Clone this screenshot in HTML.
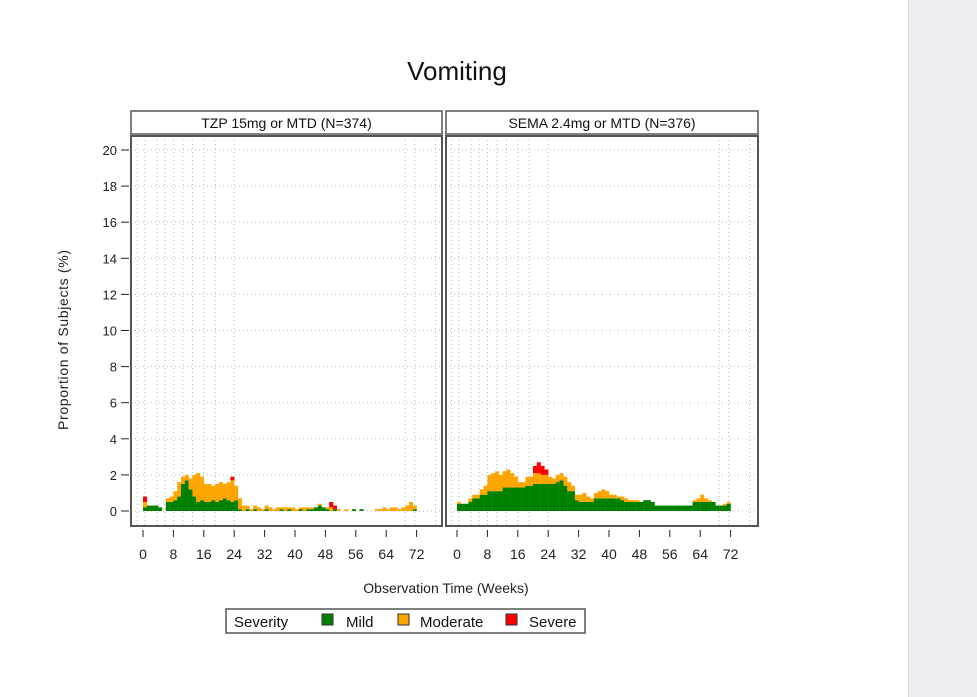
<!DOCTYPE html>
<html><head><meta charset="utf-8"><style>
body{margin:0;background:#fff;width:977px;height:697px;overflow:hidden;position:relative;font-family:"Liberation Sans",sans-serif}
#side{position:absolute;left:908px;top:0;width:69px;height:697px;background:#ececf2;border-left:1px solid #ddd}
</style></head><body>
<div id="side"></div>
<svg id="chart" width="977" height="697" style="position:absolute;left:0;top:0">
<text x="457" y="80" font-size="26" text-anchor="middle" fill="#111" font-family="Liberation Sans, sans-serif">Vomiting</text>
<text transform="translate(68,340) rotate(-90)" font-size="14" text-anchor="middle" fill="#222" textLength="180">Proportion of Subjects (%)</text>
<text x="446" y="593" font-size="14" text-anchor="middle" fill="#222">Observation Time (Weeks)</text>
<g>
<rect x="226" y="609" width="359" height="24" fill="#fff" stroke="#555" stroke-width="1.5"/>
<text x="234" y="627" font-size="15" fill="#111">Severity</text>
<rect x="322" y="614" width="11" height="11" fill="#008000" stroke="#333"/>
<text x="346" y="627" font-size="15" fill="#111">Mild</text>
<rect x="398" y="614" width="11" height="11" fill="#ffa500" stroke="#333"/>
<text x="420" y="627" font-size="15" fill="#111">Moderate</text>
<rect x="506" y="614" width="11" height="11" fill="#ff0000" stroke="#333"/>
<text x="529" y="627" font-size="15" fill="#111">Severe</text>
</g>
<g id="plot"></g>
</svg>
<script>
const yTicks=[0,2,4,6,8,10,12,14,16,18,20];
const xTicks=[0,8,16,24,32,40,48,56,64,72];
const gridWeeks=[-1.5,0.5,3.7,5.8,8,10.5,13,16,19,24,69,71.5,77];
const panelTitles=["TZP 15mg or MTD (N=374)","SEMA 2.4mg or MTD (N=376)"];
const tzpMild=[0.2,0.3,0.3,0.3,0.2,0,0.5,0.5,0.6,0.8,1.5,1.7,1.2,0.8,0.5,0.6,0.5,0.5,0.6,0.5,0.6,0.7,0.6,0.5,0.6,0.1,0,0.1,0,0.1,0,0,0.1,0,0,0,0.1,0,0.1,0,0,0.1,0,0.1,0.1,0.2,0.3,0.2,0.1,0,0.1,0,0,0,0,0.1,0,0.1,0,0,0,0,0,0,0,0,0,0,0,0,0,0.1];
const tzpMod=[0.3,0,0,0,0,0,0.2,0.3,0.5,0.8,0.4,0.3,0.6,1.2,1.6,1.3,1.0,1.0,0.8,1.0,1.0,0.8,1.0,1.2,0.8,0.6,0.3,0.2,0.1,0.2,0.2,0.1,0.2,0.2,0.1,0.2,0.1,0.2,0.1,0.2,0.1,0.1,0.2,0.1,0.1,0,0.1,0,0.1,0.2,0,0.1,0,0.1,0,0,0,0,0,0,0,0.1,0.1,0.2,0.1,0.2,0.2,0.1,0.2,0.3,0.5,0.2];
const tzpSev=[0.3,0,0,0,0,0,0,0,0,0,0,0,0,0,0,0,0,0,0,0,0,0,0,0.2,0,0,0,0,0,0,0,0,0,0,0,0,0,0,0,0,0,0,0,0,0,0,0,0,0,0.3,0.2,0,0,0,0,0,0,0,0,0,0,0,0,0,0,0,0,0,0,0,0,0];
const semaMild=[0.4,0.4,0.4,0.5,0.7,0.7,0.9,0.9,1.1,1.1,1.1,1.1,1.3,1.3,1.3,1.3,1.3,1.3,1.4,1.4,1.5,1.5,1.5,1.5,1.5,1.5,1.6,1.7,1.4,1.1,1.1,0.6,0.5,0.5,0.5,0.5,0.7,0.7,0.7,0.7,0.7,0.7,0.7,0.6,0.5,0.5,0.5,0.5,0.5,0.6,0.6,0.5,0.3,0.3,0.3,0.3,0.3,0.3,0.3,0.3,0.3,0.3,0.5,0.5,0.5,0.5,0.5,0.5,0.3,0.3,0.3,0.4];
const semaMod=[0.1,0,0,0.2,0.2,0.2,0.3,0.5,0.9,1.0,1.1,0.9,0.9,1.0,0.8,0.6,0.3,0.3,0.5,0.5,0.6,0.6,0.5,0.5,0.4,0.3,0.4,0.4,0.5,0.5,0.3,0.3,0.4,0.5,0.3,0.2,0.3,0.4,0.5,0.4,0.2,0.2,0.1,0.2,0.2,0.1,0.1,0.1,0,0,0,0,0,0,0,0,0,0,0,0,0,0,0.1,0.2,0.4,0.2,0.1,0,0,0,0.1,0.1];
const semaSev=[0,0,0,0,0,0,0,0,0,0,0,0,0,0,0,0,0,0,0,0,0.4,0.6,0.5,0.3,0,0,0,0,0,0,0,0,0,0,0,0,0,0,0,0,0,0,0,0,0,0,0,0,0,0,0,0,0,0,0,0,0,0,0,0,0,0,0,0,0,0,0,0,0,0,0,0];
const series=[[tzpMild,tzpMod,tzpSev],[semaMild,semaMod,semaSev]];
const colors=["#008000","#ffa500","#ff0000"];
const NS="http://www.w3.org/2000/svg";
const plot=document.getElementById('plot');
const panels=[{x0:131,x1:442,zero:143},{x0:446,x1:758,zero:457}];
const pxPerWeek=3.8;
const yTop=136,yBot=526;
function yScale(v){return 511-v*18.05;}
function mk(tag,a){const e=document.createElementNS(NS,tag);for(const k in a)e.setAttribute(k,a[k]);plot.appendChild(e);return e;}
for(const t of yTicks){
  const y=yScale(t);
  const l=mk('line',{x1:121,x2:129,y1:y,y2:y,stroke:'#222'});
  
  
  const tx=mk('text',{x:117,y:y+5,'font-size':13,'text-anchor':'end',fill:'#222'});
  tx.textContent=t;
  
  
}
panels.forEach((p,pi)=>{
  const xs=w=>p.zero+w*pxPerWeek;
  for(const t of yTicks){const y=yScale(t);const g=mk('line',{x1:p.x0,x2:p.x1,y1:y,y2:y,stroke:'#bbb','stroke-dasharray':'1,3'});}
  for(const w of gridWeeks){const x=xs(w);if(x<p.x0||x>p.x1)continue;const g=mk('line',{x1:x,x2:x,y1:yTop,y2:yBot,stroke:'#8fd08f','stroke-dasharray':'1,3'});}
  const s=series[pi];
  for(let i=0;i<s[0].length;i++){
    let base=0;
    for(let k=0;k<3;k++){
      const v=s[k][i];if(v<=0)continue;
      const r=mk('rect',{x:xs(i),width:pxPerWeek+0.2,y:yScale(base+v),height:yScale(base)-yScale(base+v),fill:colors[k]});
      
      
      base+=v;
    }
  }
  const f=mk('rect',{x:p.x0,y:yTop,width:p.x1-p.x0,height:yBot-yTop,fill:'none',stroke:'#555','stroke-width':2});
  
  
  const h=mk('rect',{x:p.x0,y:111,width:p.x1-p.x0,height:23,fill:'#fff',stroke:'#555','stroke-width':1.5});
  
  
  const ht=mk('text',{x:(p.x0+p.x1)/2,y:128,'font-size':14,'text-anchor':'middle',fill:'#111'});
  ht.textContent=panelTitles[pi];
  
  
  for(const t of xTicks){
    const x=xs(t);
    const l=mk('line',{x1:x,x2:x,y1:530,y2:537,stroke:'#222'});
    
    
    const tx=mk('text',{x:x,y:559,'font-size':14,'text-anchor':'middle',fill:'#222'});
    tx.textContent=t;
    
    
  }
});
</script>
</body></html>
